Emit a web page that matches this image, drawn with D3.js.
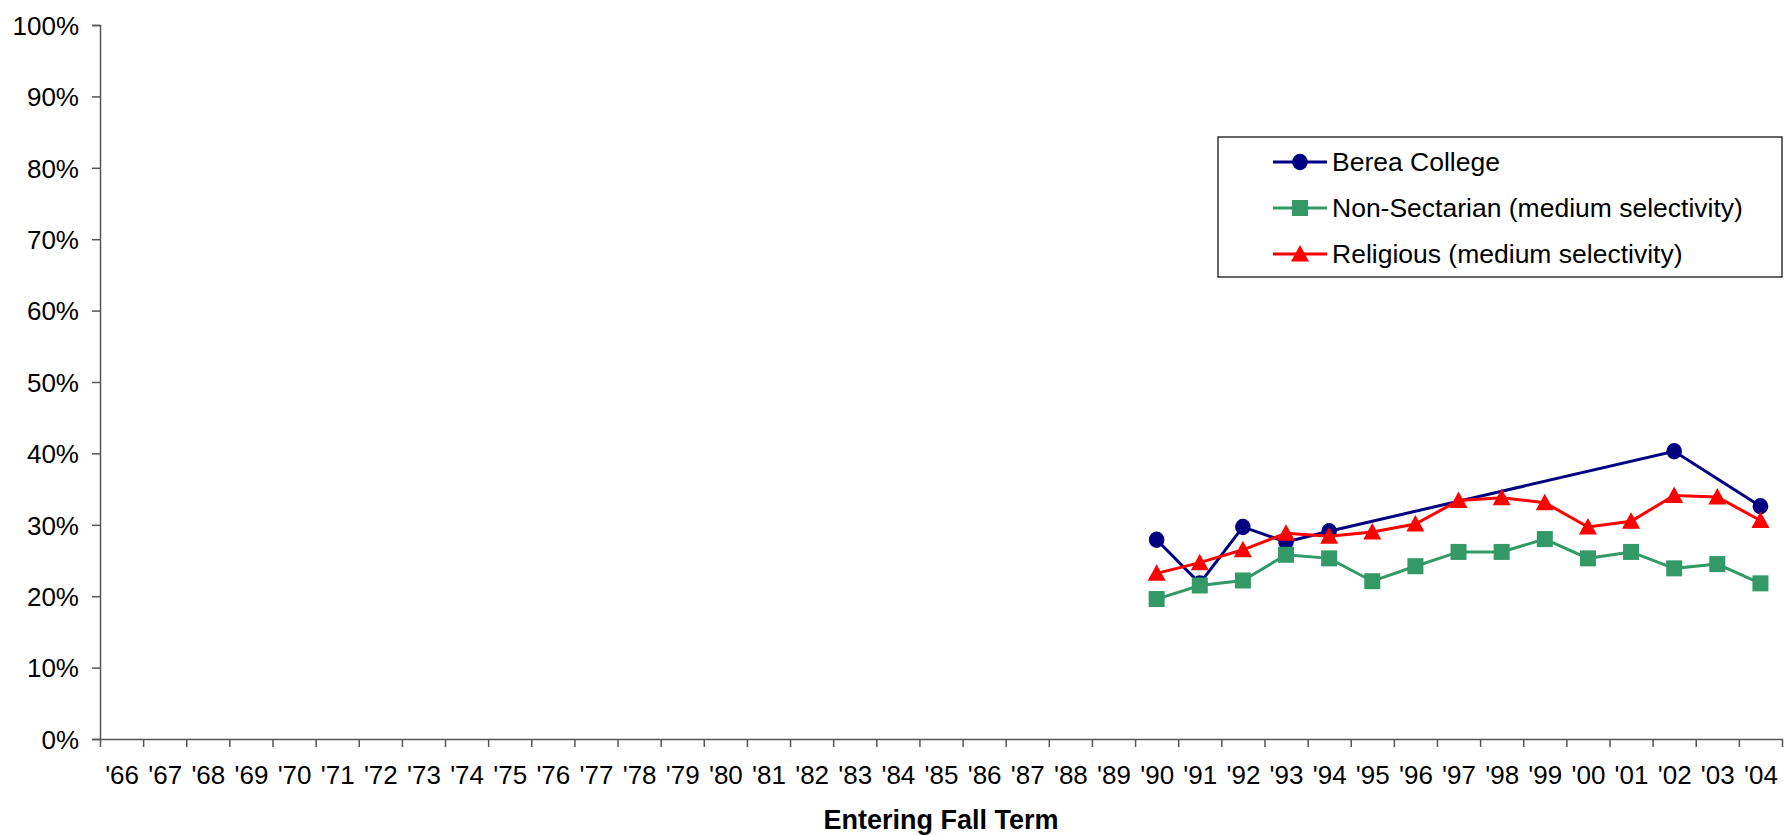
<!DOCTYPE html>
<html>
<head>
<meta charset="utf-8">
<script src="https://cdn.jsdelivr.net/npm/d3@7"></script>
<style>
  html, body { margin: 0; padding: 0; background: #fff; }
  svg { display: block; font-family: "Liberation Sans", Arial, sans-serif; }
</style>
</head>
<body>
<svg id="chart" width="1785" height="835"></svg>
<script>
const categories = ["'66","'67","'68","'69","'70","'71","'72","'73","'74","'75","'76","'77","'78","'79","'80","'81","'82","'83","'84","'85","'86","'87","'88","'89","'90","'91","'92","'93","'94","'95","'96","'97","'98","'99","'00","'01","'02","'03","'04"];
const pad24 = Array(24).fill(null);
const bereaCollege = pad24.concat([0.279, 0.218, 0.297, 0.276, 0.291, null, null, null, null, null, null, null, 0.403, null, 0.326]);
const nonSectarian = pad24.concat([0.196, 0.215, 0.222, 0.258, 0.253, 0.221, 0.242, 0.262, 0.262, 0.280, 0.253, 0.262, 0.239, 0.245, 0.218]);
const religious = pad24.concat([0.232, 0.247, 0.265, 0.288, 0.284, 0.290, 0.301, 0.334, 0.338, 0.331, 0.297, 0.305, 0.341, 0.339, 0.306]);
const yTicks = [0, 0.1, 0.2, 0.3, 0.4, 0.5, 0.6, 0.7, 0.8, 0.9, 1.0];
const seriesNames = ["Berea College", "Non-Sectarian (medium selectivity)", "Religious (medium selectivity)"];
const xTitle = "Entering Fall Term";

const series = [
  { name: seriesNames[0], values: bereaCollege, color: "#000080", marker: "circle" },
  { name: seriesNames[1], values: nonSectarian, color: "#339966", marker: "square" },
  { name: seriesNames[2], values: religious, color: "#FF0000", marker: "triangle" }
];

const svg = d3.select("#chart");
const pLeft = 100, pRight = 1782, pTop = 25, pBottom = 739;
const x = d3.scaleLinear().domain([0, categories.length]).range([pLeft, pRight]);
const y = d3.scaleLinear().domain([0, 1]).range([pBottom, pTop]);
const axisColor = "#555";

// Y axis
const yAxis = svg.append("g").attr("transform", `translate(${pLeft},0)`)
  .call(d3.axisLeft(y).tickValues(yTicks).tickFormat(d3.format(".0%")).tickSize(8).tickPadding(13));
yAxis.select(".domain").attr("stroke", axisColor).attr("stroke-width", 1.5);
yAxis.selectAll(".tick line").attr("stroke", axisColor).attr("stroke-width", 1.5);
yAxis.selectAll(".tick text").attr("fill", "#000").style("font-size", "26px").attr("dy", "0.36em");

// X axis ticks (at category boundaries)
const xAxis = svg.append("g").attr("transform", `translate(0,${pBottom})`)
  .call(d3.axisBottom(x).tickValues(d3.range(categories.length + 1)).tickFormat("").tickSize(8).tickSizeOuter(0));
xAxis.select(".domain").attr("stroke", axisColor).attr("stroke-width", 1.5);
xAxis.selectAll(".tick line").attr("stroke", axisColor).attr("stroke-width", 1.5);

// X labels
const xLab = svg.append("g").attr("transform", `translate(0,${pBottom})`)
  .call(d3.axisBottom(x).tickValues(d3.range(categories.length).map(i => i + 0.5))
    .tickFormat(d => categories[Math.round(d - 0.5)]).tickSize(0));
xLab.select(".domain").remove();
xLab.selectAll(".tick text").attr("fill", "#000").style("font-size", "26px").attr("y", 45).attr("dy", null);

// X title
svg.append("text").attr("x", (pLeft + pRight) / 2).attr("y", 828.5).attr("text-anchor", "middle")
  .style("font-size", "27px").style("font-weight", "bold").text(xTitle);

function drawMarker(g, type, cx, cy, color) {
  if (type === "circle") {
    g.append("ellipse").attr("cx", cx).attr("cy", cy).attr("rx", 7.8).attr("ry", 8.2).attr("fill", color);
  } else if (type === "square") {
    g.append("rect").attr("x", cx - 8).attr("y", cy - 8).attr("width", 16).attr("height", 16).attr("fill", color);
  } else {
    g.append("path").attr("d", `M${cx},${cy - 9} L${cx + 9},${cy + 7.5} L${cx - 9},${cy + 7.5} Z`).attr("fill", color);
  }
}

const line = d3.line().x(d => x(d.i + 0.5)).y(d => y(d.v));
series.forEach(s => {
  const pts = s.values.map((v, i) => ({ i, v })).filter(d => d.v !== null);
  const g = svg.append("g");
  g.append("path").datum(pts).attr("d", line).attr("fill", "none").attr("stroke", s.color).attr("stroke-width", 3);
  pts.forEach(d => drawMarker(g, s.marker, x(d.i + 0.5), y(d.v), s.color));
});

// Legend
const lg = svg.append("g");
lg.append("rect").attr("x", 1218).attr("y", 137).attr("width", 1782 - 1218).attr("height", 140)
  .attr("fill", "#fff").attr("stroke", "#000").attr("stroke-width", 1.2);
const rowY = [162, 208, 254];
series.forEach((s, k) => {
  lg.append("line").attr("x1", 1273).attr("x2", 1327).attr("y1", rowY[k]).attr("y2", rowY[k])
    .attr("stroke", s.color).attr("stroke-width", 3);
  drawMarker(lg, s.marker, 1300, rowY[k], s.color);
  lg.append("text").attr("x", 1332).attr("y", rowY[k]).attr("dy", "0.35em")
    .style("font-size", "26.5px").text(s.name);
});
</script>
</body>
</html>
